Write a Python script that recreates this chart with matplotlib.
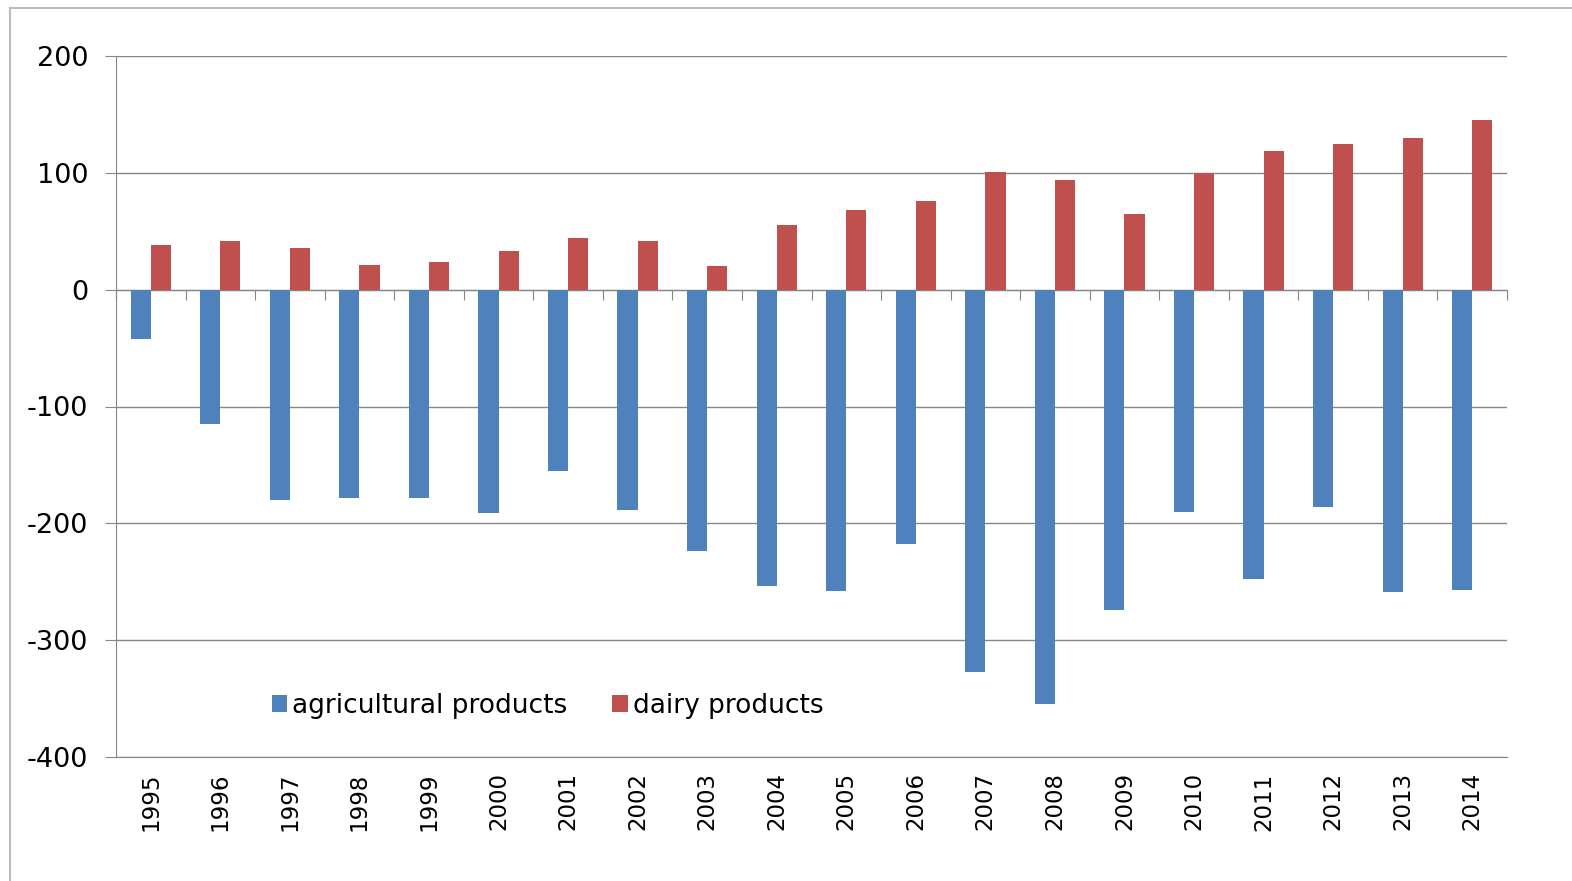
import numpy as np
import matplotlib.pyplot as plt
from matplotlib.lines import Line2D

plt.rcParams['axes.unicode_minus'] = False

years = [str(y) for y in range(1995, 2015)]
agricultural = [-42, -115, -180, -178, -178, -191, -155, -189, -224, -254,
                -258, -218, -327, -355, -274, -190, -248, -186, -259, -257]
dairy = [38, 42, 36, 21, 24, 33, 44, 42, 20, 55,
         68, 76, 101, 94, 65, 100, 119, 125, 130, 145]

blue = '#4F81BD'
red = '#C0504D'
grid_col = '#868686'

fig = plt.figure(figsize=(15.72, 8.81), dpi=100)
ax = fig.add_axes([116/1572, 1 - 757/881, (1507-116)/1572, (757-56)/881])

x = np.arange(len(years))
w = 0.29
ax.bar(x - w/2, agricultural, w, color=blue, label='agricultural products', zorder=3)
ax.bar(x + w/2, dairy, w, color=red, label='dairy products', zorder=3)

ax.set_xlim(-0.5, len(years) - 0.5)
ax.set_ylim(-400, 200)
ax.set_yticks(range(-400, 201, 100))
ax.tick_params(axis='y', labelsize=19.5, length=8, color=grid_col, pad=12)
ax.yaxis.grid(True, color=grid_col, linewidth=1, zorder=0)

ax.set_xticks(x)
ax.set_xticklabels(years, rotation=90, fontsize=16.5)
ax.tick_params(axis='x', length=0, pad=11)

for s in ['top', 'right']:
    ax.spines[s].set_visible(False)
ax.spines['left'].set_color(grid_col)
ax.spines['bottom'].set_color(grid_col)

# zero line with category boundary ticks
sec = ax.secondary_xaxis(400/600)
sec.set_xticks(np.arange(len(years) + 1) - 0.5)
sec.set_xticklabels([])
sec.tick_params(axis='x', direction='in', length=7, color=grid_col)
sec.spines['bottom'].set_color(grid_col)
sec.spines['top'].set_color(grid_col)

ax.legend(loc='center left', bbox_to_anchor=(0.112, 0.073), frameon=False,
          ncol=2, fontsize=19, handlelength=0.58, handleheight=0.58,
          handletextpad=0.2, columnspacing=1.7, borderpad=0, borderaxespad=0)

# outer chart frame
fig.add_artist(Line2D([10/1572, 1], [1 - 8/881, 1 - 8/881], color='#BBBBBB', lw=1.5))
fig.add_artist(Line2D([10/1572, 10/1572], [0, 1 - 8/881], color='#BBBBBB', lw=1.5))

fig.savefig('out.png', dpi=100)
